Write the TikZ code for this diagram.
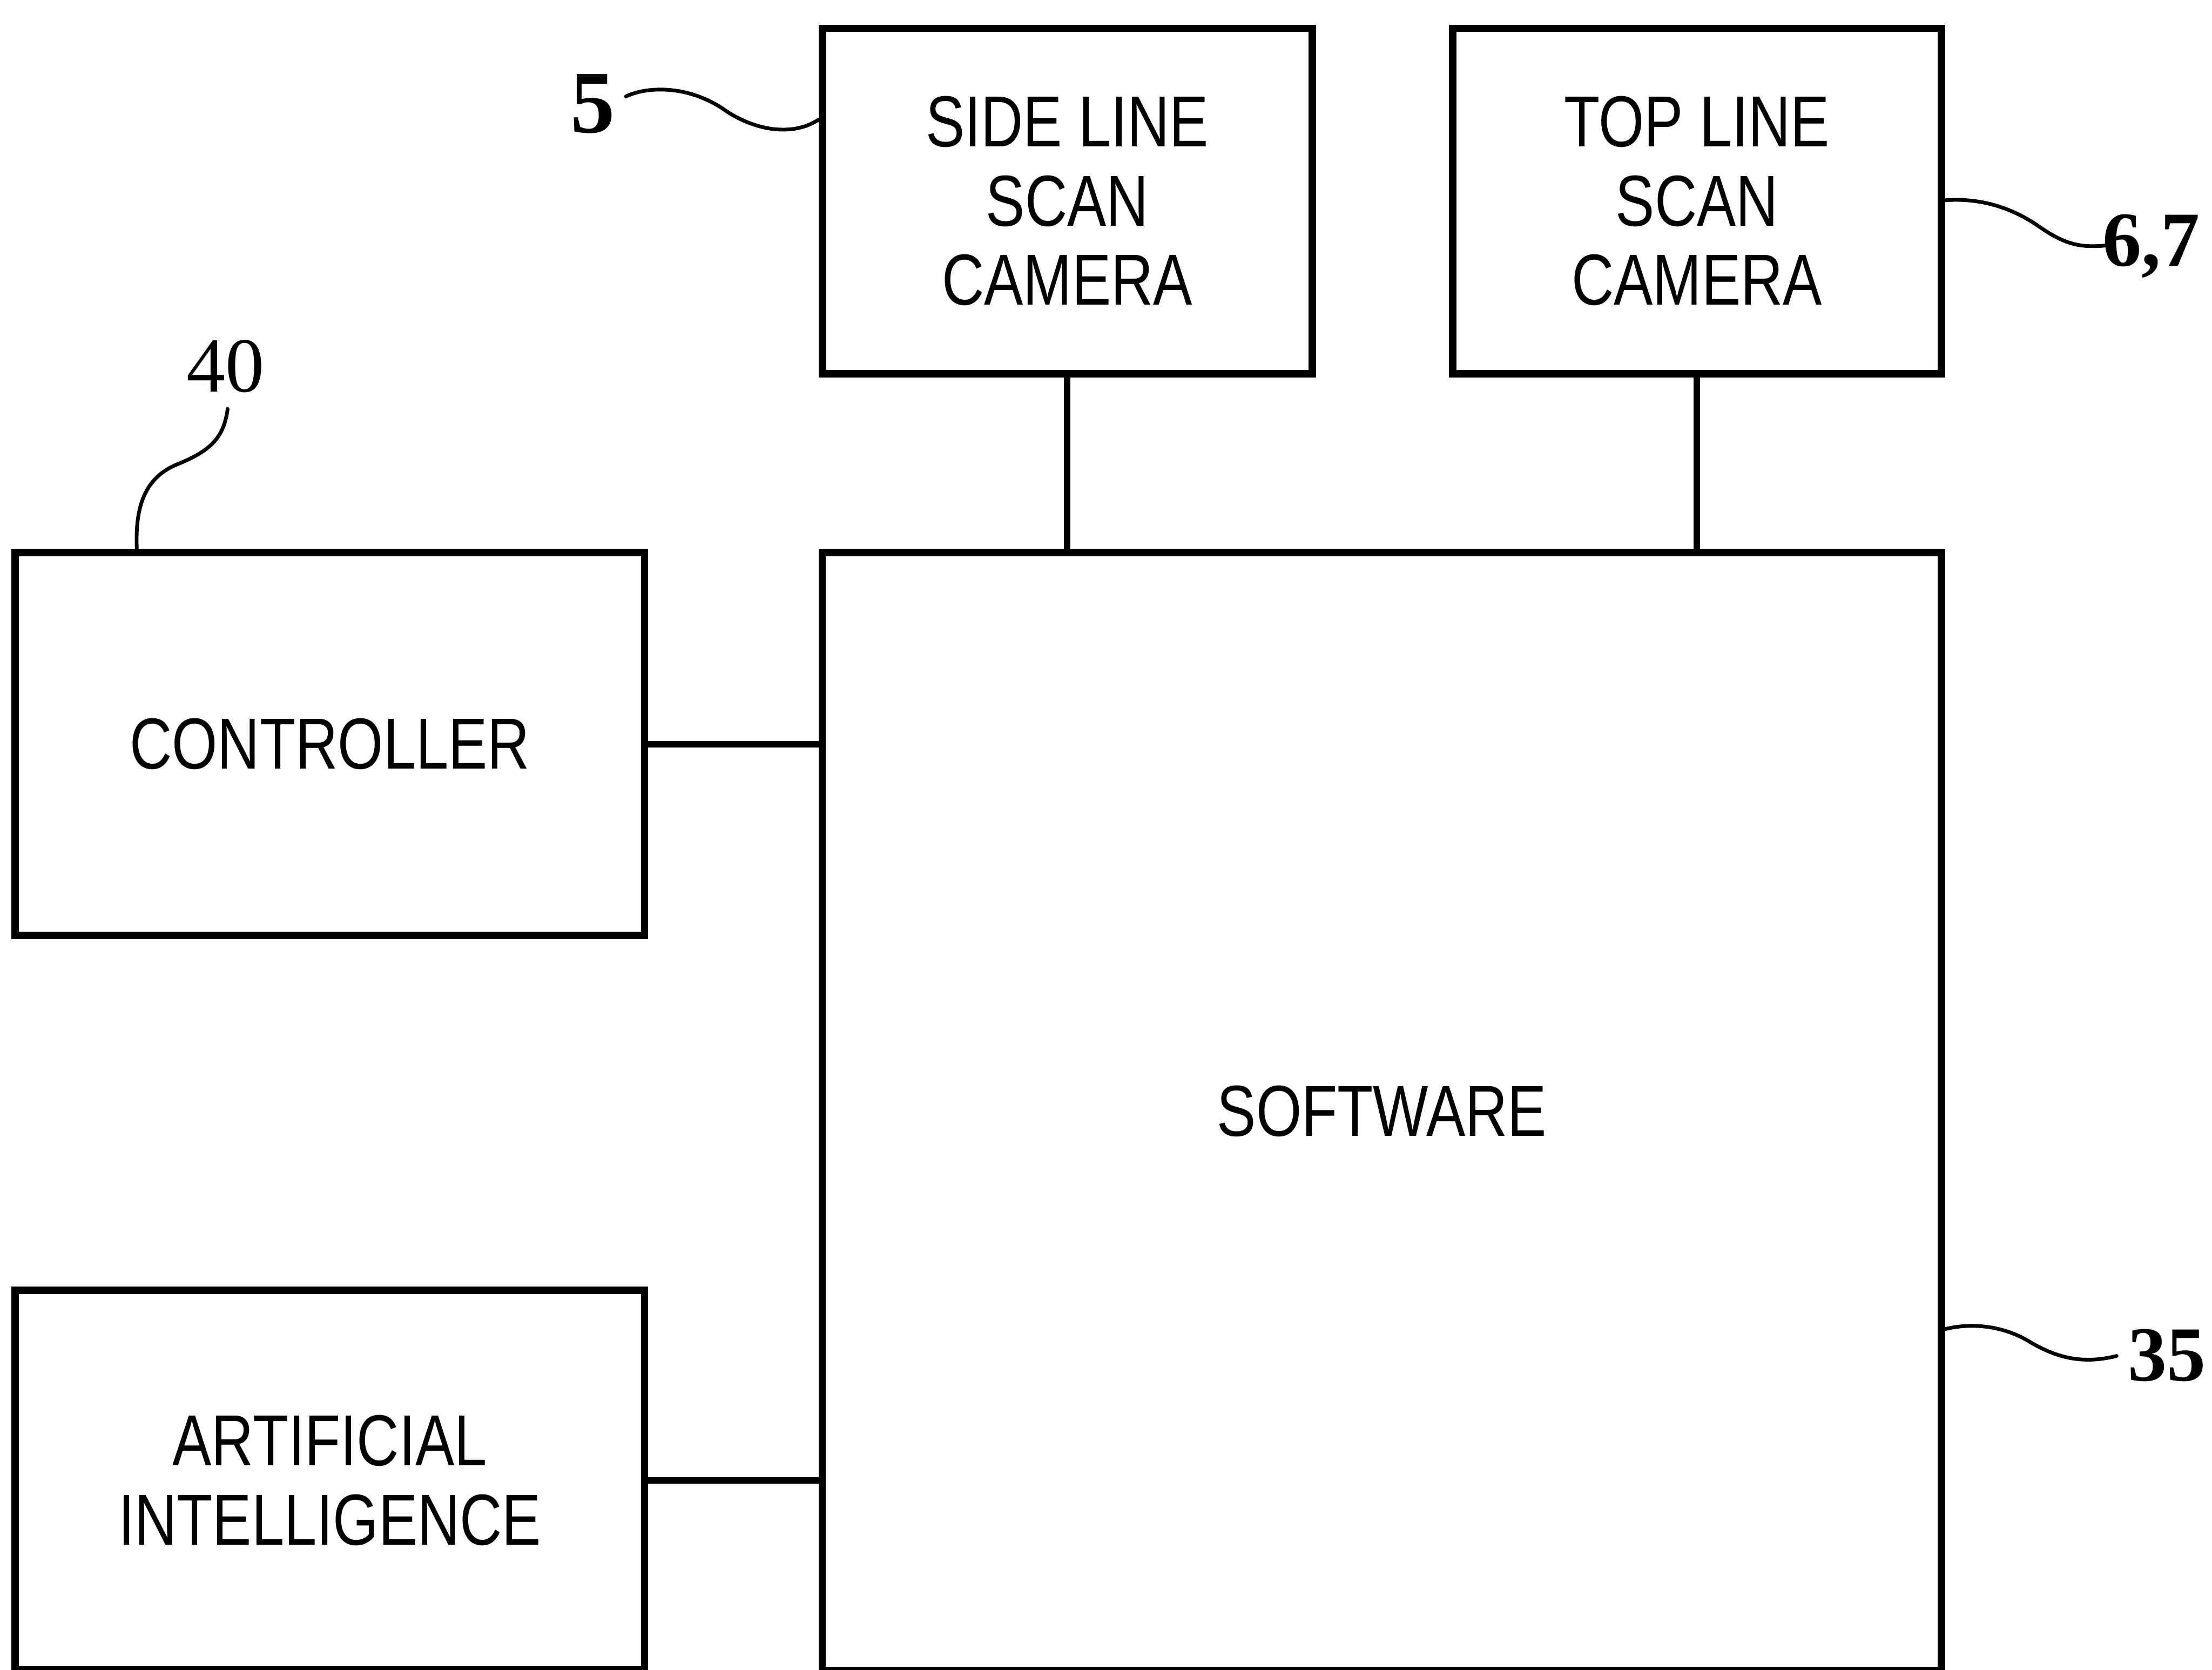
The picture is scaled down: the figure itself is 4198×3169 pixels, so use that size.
\documentclass[tikz,border=0pt]{standalone}
\usepackage{fontspec}
\setmainfont{Liberation Serif}
\newfontfamily\boxfont[FakeStretch=0.81]{Liberation Sans}
\begin{document}
\begin{tikzpicture}[x=0.01cm,y=-0.01cm,
  blk/.style={draw=black,line width=4pt,fill=none,align=center,inner sep=0pt,
    font=\boxfont\fontsize{39}{42.7}\selectfont},
  conn/.style={draw=black,line width=3.4pt},
  lead/.style={draw=black,line width=2pt,line cap=round},
  refnum/.style={inner sep=0pt,font=\fontsize{42}{46}\selectfont}]
\useasboundingbox[fill=white] (0,0) rectangle (4198,3169);

\node[blk,minimum width=9.29cm,minimum height=6.55cm] (side) at (2025.5,381.5) {SIDE LINE\\SCAN\\CAMERA};
\node[blk,minimum width=9.27cm,minimum height=6.55cm] (top) at (3220.5,381.5) {TOP LINE\\SCAN\\CAMERA};
\node[blk,minimum width=11.94cm,minimum height=7.26cm] (ctrl) at (626,1412) {CONTROLLER};
\node[blk,minimum width=11.94cm,minimum height=7.20cm] (ai) at (626,2809) {ARTIFICIAL\\INTELLIGENCE};
\node[blk,minimum width=21.23cm,minimum height=21.20cm] (soft) at (2622.5,2109) {SOFTWARE};

\draw[conn] (side.south) -- (side.south |- soft.north);
\draw[conn] (top.south) -- (top.south |- soft.north);
\draw[conn] (ctrl.east) -- (ctrl.east -| soft.west);
\draw[conn] (ai.east) -- (ai.east -| soft.west);

\node[refnum,font=\bfseries\fontsize{48}{52}\selectfont,anchor=base] (n5) at (1125,252) {5};
\node[refnum,anchor=base] (n40) at (428,744) {40};
\node[refnum,font=\bfseries\fontsize{42}{46}\selectfont,anchor=base west] (n67) at (3990,505) {6,7};
\node[refnum,font=\bfseries\fontsize{42}{46}\selectfont,anchor=base] (n35) at (4112,2620) {35};

\coordinate (l5a) at (1188,183);
\coordinate (l5b) at (side.west |- 0,227);
\draw[lead] (l5a) .. controls (1225,165) and (1300,160) .. (1370,205)
  .. controls (1425,245) and (1500,262) .. (l5b);

\coordinate (l40a) at (432,776);
\coordinate (l40b) at (260,1049);
\draw[lead] (l40a) .. controls (425,830) and (400,855) .. (339,880)
  .. controls (275,905) and (255,960) .. (l40b);

\coordinate (l67a) at (top.east |- 0,380);
\coordinate (l67b) at (3995,466);
\draw[lead] (l67a) .. controls (3760,375) and (3820,395) .. (3870,430)
  .. controls (3920,465) and (3950,470) .. (l67b);

\coordinate (l35a) at (soft.east |- 0,2522);
\coordinate (l35b) at (4017,2573);
\draw[lead] (l35a) .. controls (3740,2510) and (3800,2515) .. (3850,2545)
  .. controls (3900,2575) and (3950,2590) .. (l35b);
\end{tikzpicture}
\end{document}
